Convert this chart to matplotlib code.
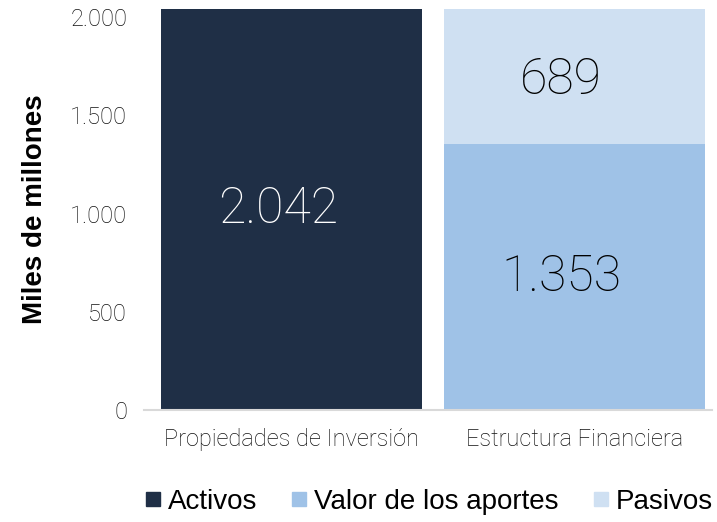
import matplotlib.pyplot as plt
from matplotlib.lines import Line2D
from matplotlib.transforms import offset_copy

categorias = ['Propiedades de Inversión', 'Estructura Financiera']
activos = [2042, 0]
aportes = [0, 1353]
pasivos = [0, 689]
ticks_y = [0, 500, 1000, 1500, 2000]
ticks_txt = ['0', '500', '1.000', '1.500', '2.000']

c_act = '#1f2f46'
c_apo = '#9fc2e7'
c_pas = '#cfe0f2'

fig = plt.figure(figsize=(7.17, 5.22), dpi=100)
ax = fig.add_axes([0.2008, 0.2146, 0.792, 0.768])

x = [0, 1]
w = 0.922
ax.bar(x[0], activos[0], width=w, color=c_act)
ax.bar(x[1], aportes[1], width=w, color=c_apo)
ax.bar(x[1], pasivos[1], width=w, bottom=aportes[1], color=c_pas)

def fmt(v):
    return f'{v:,}'.replace(',', '.')

# etiquetas un poco a la izquierda del centro, como en el original
tr = offset_copy(ax.transData, fig=fig, x=-13, y=0, units='dots')
lbl = dict(ha='center', va='center', fontsize=36, family='Roboto', weight='light', transform=tr)
ax.text(x[0], activos[0] / 2, fmt(activos[0]), color='white', **lbl)
ax.text(x[1], aportes[1] / 2, fmt(aportes[1]), color='black', **lbl)
ax.text(x[1], aportes[1] + pasivos[1] / 2 - 20, fmt(pasivos[1]), color='black', **lbl)

ax.set_xlim(-0.521, 1.486)
ax.set_ylim(0, 2042)
ax.set_yticks(ticks_y)
ax.set_yticklabels(ticks_txt, family='Roboto', weight='light', fontsize=17, color='#111111')
ax.set_xticks(x)
ax.set_xticklabels(categorias, family='Roboto', weight='light', fontsize=17, color='#111111')
ax.tick_params(length=0)
ax.tick_params(axis='y', pad=12)
ax.tick_params(axis='x', pad=13)
for s in ['top', 'right', 'left']:
    ax.spines[s].set_visible(False)
ax.spines['bottom'].set_color('#d9d9d9')
ax.spines['bottom'].set_linewidth(1.5)

ax.set_ylabel('Miles de millones', family='Liberation Sans', weight='bold', fontsize=20, labelpad=16)

handles = [Line2D([], [], marker='s', linestyle='none', markersize=10, color=c) for c in [c_act, c_apo, c_pas]]
fig.legend(handles, ['Activos', 'Valor de los aportes', 'Pasivos'], loc='center',
           bbox_to_anchor=(0.598, 0.039), ncol=3, frameon=False, handlelength=0.6,
           handletextpad=0.25, columnspacing=1.2, borderpad=0, borderaxespad=0,
           prop={'family': 'Liberation Sans', 'size': 20})

fig.savefig('out.png', dpi=100)
